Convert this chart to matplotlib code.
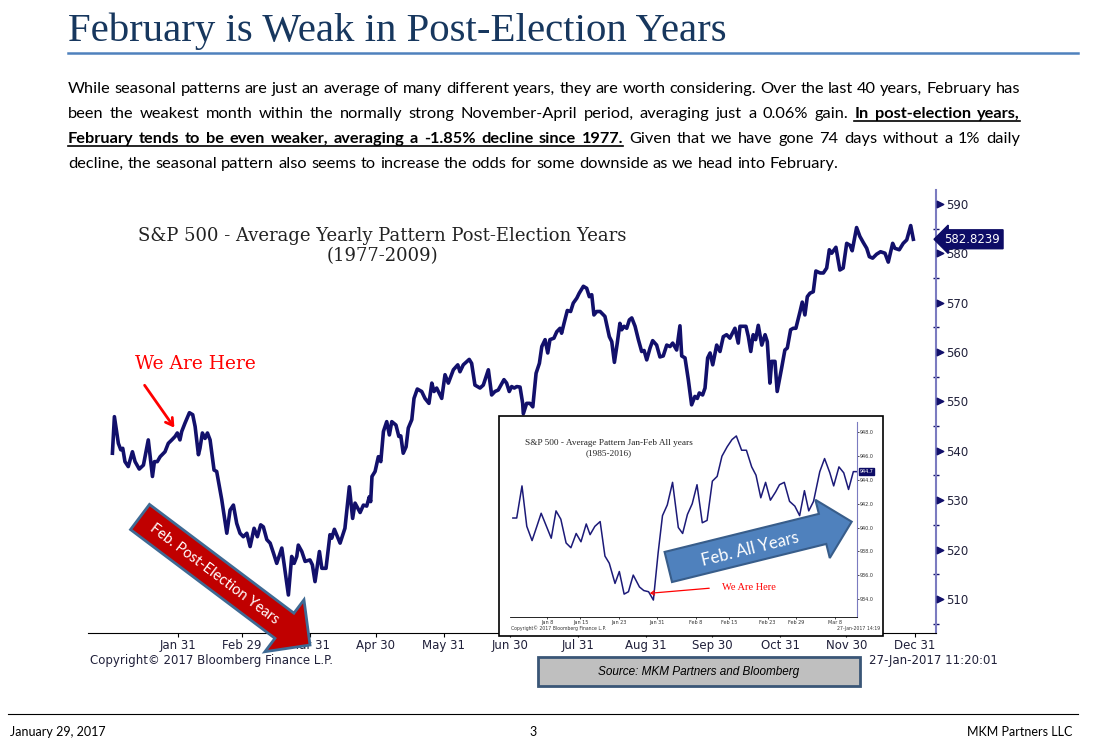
import math
import matplotlib
matplotlib.use('Agg')
import matplotlib.pyplot as plt
from matplotlib.patches import Rectangle, Polygon, FancyArrowPatch
from matplotlib.lines import Line2D

# ---- data ----
# main chart: day of year (leap year calendar) and index level
post_days = [1.3, 2.2, 4.0, 5.1, 6.0, 7.0, 8.5, 10.4, 11.6, 13.5, 15.4, 17.6, 19.5, 20.4, 21.7, 23.0, 25.2, 26.7,
             28.3, 29.8, 30.8, 32.0, 32.8, 34.3, 36.3, 37.8, 38.9, 40.4, 41.1, 42.2, 43.4, 44.5, 45.7, 47.5, 48.7,
             51.0, 53.3, 54.8, 56.3, 57.8, 59.3, 60.8, 62.4, 63.9, 65.7, 67.2, 68.7, 69.9, 71.5, 73.0, 74.5, 76.0,
             78.3, 79.3, 81.3, 82.8, 83.9, 85.1,
             85.8, 87.4, 88.9, 91.1, 92.2, 93.4, 95.4, 96.5, 98.4, 100.2, 101.0, 102.2, 104.8, 107.0, 109.0, 110.5,
             111.6, 113.9, 115.4, 116.9, 118.1, 118.7, 119.3, 120.7, 122.2, 123.3, 124.5, 126.0, 127.2, 128.3,
             130.2, 131.5, 132.4, 133.5, 134.8, 135.8, 137.4, 138.4, 139.9, 141.9, 143.4, 145.2, 146.5, 147.5,
             148.7, 151.0, 152.5, 154.0, 156.3, 158.3, 159.3, 160.8, 163.5, 164.6, 166.1, 168.4, 169.9, 172.2,
             173.7, 175.2, 176.7,
             179.3, 180.5, 181.7, 182.8, 184.0, 185.1, 186.6, 187.8, 188.1, 189.6, 191.1, 192.4, 193.9, 195.4,
             196.5, 198.0, 199.2, 200.2, 202.0, 203.3, 204.8, 205.5, 206.6, 208.1, 209.6, 210.8, 212.4, 213.5,
             215.4, 216.9, 218.1, 219.2, 220.2, 221.5, 223.0, 225.2, 227.2, 228.3, 229.5, 230.8, 232.0, 232.8,
             233.9, 235.1, 236.3, 237.4, 238.9, 240.4, 241.9, 243.0, 244.2, 245.7, 246.9, 248.7, 250.2, 251.7,
             253.3, 254.8, 256.0, 257.8, 259.3, 260.1, 261.6, 263.1, 264.6, 266.1, 267.2, 268.1, 269.6, 270.7,
             271.9, 273.0,
             274.2, 276.0, 277.5, 279.0, 280.5, 282.0, 284.3, 285.8, 286.6, 289.3, 290.4, 291.5, 292.6, 293.7,
             294.9, 296.5, 298.0, 299.0, 300.2, 301.0, 302.5, 303.5, 305.5, 307.0, 308.1, 309.6, 310.8, 312.0,
             313.9, 314.9, 316.1, 317.2, 318.4, 319.9, 321.1, 323.0, 324.5, 326.0, 327.2, 328.3, 330.2, 332.0,
             333.5, 335.1, 336.6, 337.6, 339.6, 341.1, 342.6, 344.2, 345.4, 346.9, 348.7, 350.5, 352.5, 354.0,
             356.0, 357.0, 359.0, 360.8, 362.4, 364.2, 365.4]
post_vals = [539.5, 546.9, 541.5, 540.2, 540.5, 537.8, 536.8, 539.8, 537.8, 536.3, 537.1, 542.2, 534.8, 537.8,
             537.8, 538.8, 539.8, 541.5, 542.2, 542.9, 543.6, 542.2, 543.9, 545.6, 547.7, 547.3, 544.9, 539.2,
             540.5, 543.6, 542.5, 543.6, 542.2, 536.1, 535.8, 530.1, 523.3, 528.0, 529.0, 525.3, 523.3, 522.6,
             523.3, 520.6, 524.3, 522.6, 525.0, 524.6, 522.0, 521.3, 519.3, 517.2, 520.3, 517.2, 510.8, 518.6,
             517.2, 518.6,
             520.9, 519.6, 517.6, 517.9, 516.9, 513.5, 519.6, 516.2, 516.2, 523.0, 522.3, 524.1, 521.3, 524.3,
             532.7, 526.3, 529.4, 527.5, 529.0, 528.8, 530.7, 529.7, 534.8, 535.8, 538.8, 537.8, 543.9, 545.9,
             543.2, 545.9, 545.2, 542.9, 543.0, 539.5, 540.8, 544.6, 546.3, 550.6, 552.5, 552.0, 550.6, 549.6,
             553.7, 552.0, 552.7, 550.6, 555.4, 553.7, 556.4, 557.4, 556.0, 557.4, 558.5, 557.7, 553.3, 552.7,
             553.3, 556.4, 551.3, 552.0, 552.3,
             554.4, 553.7, 552.0, 553.0, 552.7, 553.0, 552.9, 549.6, 547.5, 549.6, 549.6, 548.9, 555.7, 557.7,
             561.1, 562.5, 559.8, 562.5, 562.8, 564.1, 564.8, 563.8, 565.8, 568.4, 568.2, 569.9, 570.9, 571.9,
             573.3, 572.9, 571.2, 571.6, 567.5, 568.2, 568.2, 567.2, 563.1, 562.1, 557.9, 561.8, 565.8, 564.5,
             565.2, 564.8, 566.5, 566.9, 565.2, 562.5, 560.1, 560.3, 558.4, 560.8, 562.3, 561.4, 559.0, 559.2,
             561.4, 561.1, 561.8, 560.4, 565.3, 559.2, 558.8, 554.4, 549.3, 551.0, 550.6, 551.7, 551.3, 552.7,
             558.8, 559.8,
             557.4, 561.4, 560.1, 563.1, 563.5, 562.8, 564.8, 561.8, 565.2, 565.2, 563.1, 560.1, 563.5, 562.5,
             565.4, 561.4, 563.5, 562.1, 553.7, 558.1, 558.1, 552.0, 556.7, 560.4, 560.8, 564.5, 564.8, 564.8,
             568.2, 570.1, 567.5, 571.2, 571.9, 572.2, 576.4, 576.0, 576.0, 577.0, 580.7, 580.0, 581.2, 576.6,
             577.0, 582.0, 581.6, 580.5, 585.2, 583.4, 582.2, 581.0, 579.3, 579.0, 579.8, 580.3, 580.0, 578.2,
             582.0, 581.0, 580.7, 582.0, 582.7, 585.6, 582.8239]
last_label = '582.8239'

month_days = [31, 60, 91, 121, 152, 182, 213, 244, 274, 305, 335, 366]
month_labels = ['Jan 31', 'Feb 29', 'Mar 31', 'Apr 30', 'May 31', 'Jun 30', 'Jul 31', 'Aug 31',
                'Sep 30', 'Oct 31', 'Nov 30', 'Dec 31']
y_major = [510, 520, 530, 540, 550, 560, 570, 580, 590]
y_minor = [505, 515, 525, 535, 545, 555, 565, 575, 585]

# inset: Jan-Feb all years
inset_days = [0.9, 1.7, 2.8, 3.8, 4.9, 5.9, 6.8, 7.8, 8.9, 9.9, 10.9, 12.0, 13.0, 14.1, 15.1, 16.2, 17.0, 18.0,
              19.1, 20.1, 21.0, 22.2, 23.1, 24.1, 25.0, 26.0, 27.3, 28.2, 29.2, 30.2, 31.2, 32.1, 33.1, 34.2,
              35.4, 36.3, 37.3, 38.3, 39.3, 40.4, 41.4, 42.5, 43.5, 44.5, 45.6, 46.6, 47.5, 48.6, 49.6, 50.7,
              51.6, 52.6, 53.6, 54.6, 55.7, 56.5, 57.5, 58.6, 59.7, 60.7, 61.7, 62.6, 63.6, 64.9, 65.9, 67.0,
              67.8, 68.9, 69.9, 70.9, 71.9, 72.5]
inset_vals = [940.8, 940.8, 943.5, 940.1, 938.9, 940.1, 941.2, 940.2, 939.1, 941.4, 940.7, 938.7, 938.3, 939.5,
              938.8, 940.3, 939.4, 940.1, 940.5, 937.6, 937.0, 935.3, 936.3, 934.4, 934.6, 936.0, 935.0, 934.7,
              934.6, 933.9, 937.9, 941.0, 941.9, 943.8, 940.0, 939.5, 941.1, 942.0, 943.6, 940.4, 940.6, 943.9,
              944.3, 946.0, 946.8, 947.4, 947.7, 946.5, 946.5, 945.1, 944.4, 942.5, 943.8, 942.3, 943.0, 943.6,
              943.8, 942.2, 941.8, 941.0, 943.1, 941.4, 942.2, 944.7, 945.8, 944.6, 943.5, 945.1, 944.6, 943.2,
              944.7, 944.7]
inset_last = '944.7'
inset_tick_days = [8, 15, 23, 31, 39, 46, 54, 60, 68]
inset_tick_labels = ['Jan 8', 'Jan 15', 'Jan 23', 'Jan 31', 'Feb 8', 'Feb 15', 'Feb 23', 'Feb 29', 'Mar 8']
inset_yticks = [934, 936, 938, 940, 942, 944, 946, 948]

title = 'February is Weak in Post-Election Years'
chart_title = 'S&P 500 - Average Yearly Pattern Post-Election Years'
inset_title = 'S&P 500 - Average Pattern Jan-Feb All years'
para = [
    [('While seasonal patterns are just an average of many different years, they are worth considering. '
      'Over the last 40 years, February has', False)],
    [('been the weakest month within the normally strong November-April period, averaging just a 0.06% gain.',
      False), ('In post-election years,', True)],
    [('February tends to be even weaker, averaging a -1.85% decline since 1977.', True),
     ('Given that we have gone 74 days without a 1% daily', False)],
    [('decline, the seasonal pattern also seems to increase the odds for some downside as we head into February.',
      False)],
]

navy = '#12106B'
W, H = 1096, 747
fig = plt.figure(figsize=(W / 100, H / 100), dpi=100)
fig.patch.set_facecolor('white')
renderer = fig.canvas.get_renderer()


def px(x, y):
    return (x / W, 1 - y / H)


def text_width(s, **kw):
    t = fig.text(0, 0, s, **kw)
    w = t.get_window_extent(renderer).width
    t.remove()
    return w


def fit(s, target, family):
    return 12 * target / text_width(s, fontsize=12, family=family)


def block_arrow(x0, y0, x1, y1, sw, hw, hl):
    dx, dy = x1 - x0, y1 - y0
    L = math.hypot(dx, dy)
    ux, uy = dx / L, dy / L
    nx, ny = -uy, ux
    bx, by = x1 - ux * hl, y1 - uy * hl
    pts = [(x0 + nx * sw / 2, y0 + ny * sw / 2), (bx + nx * sw / 2, by + ny * sw / 2),
           (bx + nx * hw / 2, by + ny * hw / 2), (x1, y1), (bx - nx * hw / 2, by - ny * hw / 2),
           (bx - nx * sw / 2, by - ny * sw / 2), (x0 - nx * sw / 2, y0 - ny * sw / 2)]
    return [px(*p) for p in pts]


# ---- header ----
serif = 'Liberation Serif'
serif2 = 'DejaVu Serif'
fig.text(*px(68, 41), title, fontsize=fit(title, 659, serif), family=serif, color='#17375E', va='baseline')
fig.add_artist(Line2D([68 / W, 1078 / W], [1 - 53 / H] * 2, color='#4F81BD', lw=1.8))

body = 'Lato'
fsz = fit(para[3][0][0], 765, body)


def style(b):
    return dict(fontsize=fsz, family=body, fontweight='bold' if b else 'normal')


for i, segs in enumerate(para):
    y = 93 + 25 * i
    words = []
    for txt, b in segs:
        for w in txt.split(' '):
            words.append((w, b))
    widths = [text_width(w, **style(b)) for w, b in words]
    if i < 3:
        gap = (1020 - 68 - sum(widths)) / (len(words) - 1)
    else:
        gap = text_width('a b', **style(False)) - text_width('ab', **style(False))
    x = 68
    ul = None
    for (w, b), wd in zip(words, widths):
        fig.text(*px(x, y), w, va='baseline', color='black', **style(b))
        if b:
            if ul is None:
                ul = [x, x + wd]
            else:
                ul[1] = x + wd
        x += wd + gap
    if ul:
        fig.add_artist(Line2D([ul[0] / W, ul[1] / W], [1 - (y + 2.5) / H] * 2, color='black', lw=1.2))

# ---- main chart ----
ax = fig.add_axes([88 / W, 1 - 633 / H, (936 - 88) / W, (633 - 190) / H])
ax.plot(post_days, post_vals, color=navy, lw=2.6, solid_joinstyle='round')
ax.scatter([1.0045] * len(y_major), y_major, transform=ax.get_yaxis_transform(), marker='>', s=22,
           color=navy, clip_on=False, zorder=5)
ax.set_xlim(-9.8, 375.7)
ax.set_ylim(503.1, 592.8)
for s in ['left', 'top']:
    ax.spines[s].set_visible(False)
ax.spines['right'].set_color('#7B7BC0')
ax.spines['right'].set_linewidth(1.5)
ax.spines['bottom'].set_color('black')
ax.yaxis.tick_right()
ax.set_yticks(y_major)
ax.set_yticks(y_minor, minor=True)
ax.set_xticks(month_days, month_labels)
ax.tick_params(axis='y', which='major', length=0, pad=7, labelsize=8.5, labelcolor='#20203A')
ax.tick_params(axis='y', which='minor', length=4, direction='inout', color=navy, width=1)
ax.tick_params(axis='x', length=3, pad=1.5, labelsize=8.5, labelcolor='#20203A')
ax.annotate(last_label, xy=(1.0, float(post_vals[-1])), xycoords=ax.get_yaxis_transform(),
            xytext=(6, 0), textcoords='offset points', va='center', ha='left', color='white',
            fontsize=8.5, bbox=dict(boxstyle='larrow,pad=0.25', fc='#0D0C66', ec='#0D0C66'),
            annotation_clip=False, zorder=6)

ct = fit(chart_title, 489, serif2)
fig.text(*px(382, 241), chart_title, fontsize=ct, family=serif2, ha='center', va='baseline', color='#222222')
fig.text(*px(382, 261), '(1977-2009)', fontsize=ct, family=serif2, ha='center', va='baseline',
         color='#222222')

fig.text(*px(135, 369), 'We Are Here', fontsize=fit('We Are Here', 121, serif2), family=serif2, color='red',
         va='baseline')
fig.add_artist(FancyArrowPatch(px(143, 383), px(176, 430), transform=fig.transFigure,
                               arrowstyle='->,head_length=5,head_width=3', lw=2, color='red'))

fig.add_artist(Polygon(block_arrow(140, 517, 310, 645, 31.5, 65, 32), closed=True, transform=fig.transFigure,
                       fc='#C00000', ec='#3E6A94', lw=2, zorder=3))
fig.text(*px(214, 574), 'Feb. Post-Election Years', rotation=-36.9, rotation_mode='anchor', ha='center',
         va='center', color='white', fontsize=10.5, family=body, zorder=4)

fig.text(*px(90, 664), 'Copyright\u00a9 2017 Bloomberg Finance L.P.', fontsize=8.5, color='#20203A',
         va='baseline')
fig.text(*px(998, 664), '27-Jan-2017 11:20:01', fontsize=8.5, color='#20203A', va='baseline', ha='right')

# ---- inset ----
fig.add_artist(Rectangle(px(499, 635.7), 384 / W, 220 / H, transform=fig.transFigure, fc='white',
                         ec='black', lw=1.2, zorder=1))
ax2 = fig.add_axes([510 / W, 1 - 616.7 / H, (856.7 - 510) / W, (616.7 - 421.7) / H], zorder=2)
ax2.patch.set_alpha(0)
ax2.plot(inset_days, inset_vals, color='#1C1A78', lw=1.1)
ax2.set_xlim(0.3, 72.6)
ax2.set_ylim(932.5, 948.9)
for s in ['left', 'top']:
    ax2.spines[s].set_visible(False)
ax2.spines['right'].set_color('#7B7BC0')
ax2.spines['right'].set_linewidth(0.8)
ax2.spines['bottom'].set_linewidth(0.6)
ax2.yaxis.tick_right()
ax2.set_yticks(inset_yticks, ['%.1f' % v for v in inset_yticks])
ax2.set_xticks(inset_tick_days, inset_tick_labels)
ax2.tick_params(axis='both', length=1.5, width=0.5, pad=1, labelsize=3.5, labelcolor='#333333')
ax2.annotate(inset_last, xy=(1.0, inset_vals[-1]), xycoords=ax2.get_yaxis_transform(),
             xytext=(2, 0), textcoords='offset points', va='center', ha='left', color='white',
             fontsize=3.5, bbox=dict(boxstyle='square,pad=0.15', fc='#0D0C66', ec='#0D0C66'),
             annotation_clip=False, zorder=6)

it = fit(inset_title, 166, serif)
fig.text(*px(609, 445), inset_title, fontsize=it, family=serif, ha='center', va='baseline', color='#222222',
         zorder=5)
fig.text(*px(609, 455), '(1985-2016)', fontsize=it, family=serif, ha='center', va='baseline',
         color='#222222', zorder=5)
fig.text(*px(511, 630), 'Copyright\u00a9 2017 Bloomberg Finance L.P.', fontsize=3.3, color='#333333',
         va='baseline', zorder=5)
fig.text(*px(880, 630), '27-Jan-2017 14:19', fontsize=3.3, color='#333333', va='baseline', ha='right',
         zorder=5)
fig.text(*px(722, 590), 'We Are Here', fontsize=fit('We Are Here', 54, serif), family=serif, color='red',
         va='baseline', zorder=5)
fig.add_artist(FancyArrowPatch(px(712, 588), px(647, 593.5), transform=fig.transFigure,
                               arrowstyle='->,head_length=2.5,head_width=1.5', lw=0.9, color='red', zorder=5))

fig.add_artist(Polygon(block_arrow(668.3, 567, 851.7, 521.7, 31, 60, 30), closed=True,
                       transform=fig.transFigure, fc='#4F81BD', ec='#385D8A', lw=1.5, zorder=4))
fig.text(*px(750, 549), 'Feb. All Years', rotation=13.9, rotation_mode='anchor', ha='center', va='center',
         color='white', fontsize=12, family=body, zorder=5)

# ---- source box + footer ----
fig.add_artist(Rectangle(px(538, 686), 322 / W, 29 / H, transform=fig.transFigure, fc='#BFBFBF',
                         ec='#3A5677', lw=2, zorder=1))
fig.text(*px(699, 672), 'Source: MKM Partners and Bloomberg', fontsize=8.5, family='Liberation Sans',
         style='italic', ha='center', va='center', color='black', zorder=2)

fig.add_artist(Line2D([8 / W, 1078 / W], [1 - 714 / H] * 2, color='black', lw=0.8))
fig.text(*px(10, 736), 'January 29, 2017', fontsize=9, family=body, va='baseline')
fig.text(*px(533, 736), '3', fontsize=9, family=body, va='baseline', ha='center')
fig.text(*px(1072, 736), 'MKM Partners LLC', fontsize=9, family=body, va='baseline', ha='right')

fig.savefig('out.png', dpi=100, facecolor='white')
